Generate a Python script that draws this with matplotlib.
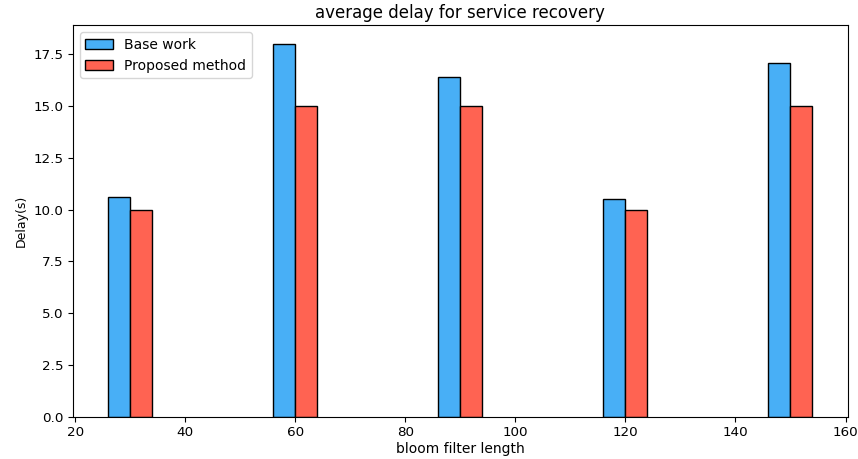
import matplotlib
matplotlib.use('Agg')
import matplotlib.pyplot as plt
import numpy as np

lengths = [30, 60, 90, 120, 150]
base_work = [10.6, 18.0, 16.4, 10.5, 17.1]
proposed = [10.0, 15.0, 15.0, 10.0, 15.0]

x = np.array(lengths)
width = 4

fig = plt.figure(figsize=(8.58, 4.59), dpi=100)
ax = fig.add_axes([0.085, 0.092, 0.903, 0.853])
ax.bar(x - width / 2, base_work, width, color='#48aff6', edgecolor='black', label='Base work')
ax.bar(x + width / 2, proposed, width, color='#ff6352', edgecolor='black', label='Proposed method')

ax.set_title('average delay for service recovery', fontsize=12, pad=5)
ax.set_xlabel('bloom filter length', fontsize=10, labelpad=2)
ax.set_ylabel('Delay(s)', fontsize=9)
ax.tick_params(labelsize=9.7)
ax.legend(loc='upper left', fontsize=10)

fig.savefig('out.png', dpi=100)
